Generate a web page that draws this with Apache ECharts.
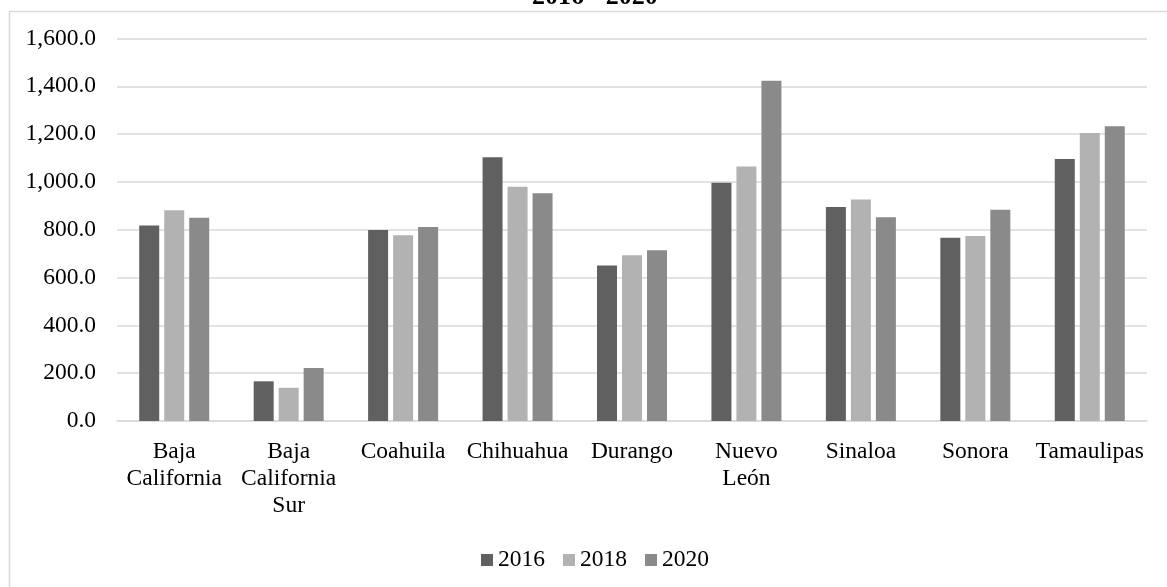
<!DOCTYPE html>
<html>
<head>
<meta charset="utf-8">
<title>2016 - 2020</title>
<script src="https://cdn.jsdelivr.net/npm/echarts@6/dist/echarts.min.js"></script>
<style>
    html, body { margin: 0; padding: 0; background: #fff; }
    #chart { width: 1167px; height: 587px; }
</style>
</head>
<body>
<div id="chart"></div>
<script>
// Estados (eje x) y valores por año
const states = ['Baja\nCalifornia', 'Baja\nCalifornia\nSur', 'Coahuila', 'Chihuahua', 'Durango',
    'Nuevo\nLeón', 'Sinaloa', 'Sonora', 'Tamaulipas'];
const years = ['2016', '2018', '2020'];
const values2016 = [818, 166, 799, 1103, 650, 997, 895, 767, 1096];
const values2018 = [882, 139, 777, 980, 693, 1065, 927, 774, 1205];
const values2020 = [850, 222, 811, 953, 714, 1423, 852, 884, 1233];
const yTicks = [0, 200, 400, 600, 800, 1000, 1200, 1400, 1600];

const colors = ['#606060', '#b2b2b2', '#8a8a8a'];
const font = '"Liberation Serif", "Times New Roman", serif';

const chart = echarts.init(document.getElementById('chart'), null, { renderer: 'canvas' });

const fmt = (v) => v.toLocaleString('en-US', { minimumFractionDigits: 1, maximumFractionDigits: 1 });

const seriesData = [values2016, values2018, values2020];

const option = {
    backgroundColor: '#fff',
    animation: false,
    title: {
        text: '2016 - 2020',
        left: 527,
        top: -21,
        textStyle: { fontFamily: font, fontWeight: 'bold', fontSize: 26, color: '#000' }
    },
    graphic: [{
        type: 'rect',
        left: 7,
        top: 9,
        shape: { width: 1175, height: 600 },
        style: { fill: 'none', stroke: '#d9d9d9', lineWidth: 1.5 },
        silent: true
    }],
    legend: {
        data: years,
        left: 481,
        top: 548,
        padding: 0,
        icon: 'rect',
        itemWidth: 12,
        itemHeight: 12,
        itemGap: 18,
        textStyle: { fontFamily: font, fontSize: 23.5, color: '#000' }
    },
    grid: {
        left: 117,
        right: 20,
        top: 38.5,
        bottom: 166,
        containLabel: false
    },
    xAxis: {
        type: 'category',
        data: states,
        axisTick: { show: false },
        axisLine: { lineStyle: { color: '#d9d9d9', width: 1.5 } },
        axisLabel: {
            interval: 0,
            margin: 17,
            fontFamily: font,
            fontSize: 23.5,
            lineHeight: 27,
            color: '#000'
        }
    },
    yAxis: {
        type: 'value',
        min: yTicks[0],
        max: yTicks[yTicks.length - 1],
        interval: 200,
        axisLine: { show: false },
        axisTick: { show: false },
        splitLine: { lineStyle: { color: '#d9d9d9', width: 1.5 } },
        axisLabel: {
            margin: 21,
            fontFamily: font,
            fontSize: 23.5,
            color: '#000',
            formatter: fmt
        }
    },
    series: years.map((y, i) => ({
        name: y,
        type: 'bar',
        data: seriesData[i],
        barWidth: 20,
        barGap: '25%',
        itemStyle: { color: colors[i] }
    }))
};

chart.setOption(option);
window.addEventListener('resize', () => chart?.resize());
</script>
</body>
</html>
